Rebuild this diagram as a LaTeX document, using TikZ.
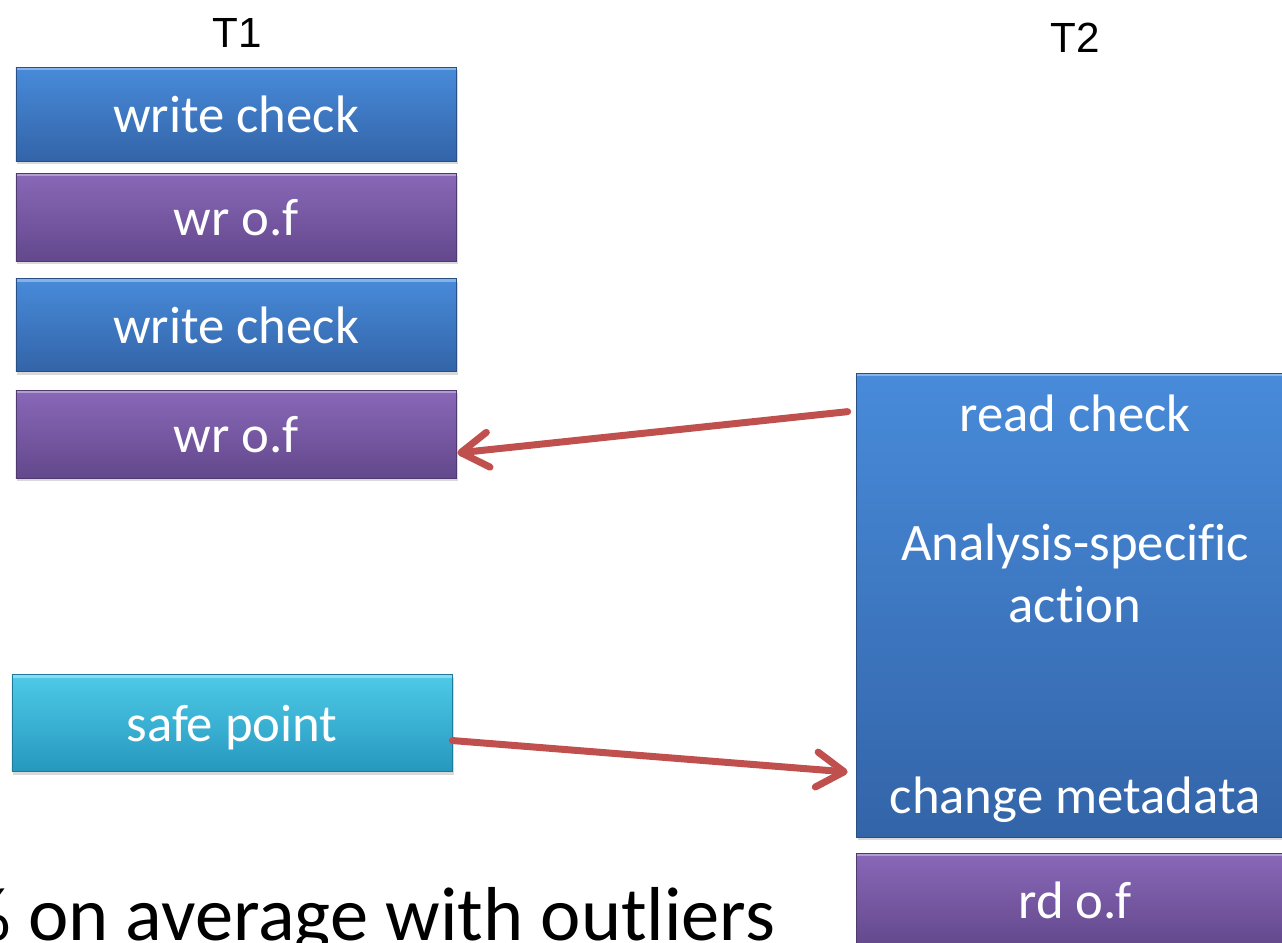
\documentclass[tikz,border=0pt]{standalone}
\usepackage{fontspec}
\setmainfont{Carlito}[Ligatures=NoCommon]
\newfontfamily\arialfont{Liberation Sans}
\usetikzlibrary{arrows.meta,shadows,calc}

\definecolor{chktop}{RGB}{72,139,218}
\definecolor{chkbot}{RGB}{51,100,168}
\definecolor{acctop}{RGB}{137,104,184}
\definecolor{accbot}{RGB}{99,72,140}
\definecolor{sptop}{RGB}{78,202,232}
\definecolor{spbot}{RGB}{38,152,190}
\definecolor{linkred}{RGB}{192,80,77}

\begin{document}
\begin{tikzpicture}
	[
	x=0.2mm, y=-0.2mm,
	box/.style={rectangle, inner sep=0pt, minimum width=88mm, text=white,
		font=\fontsize{30}{36}\selectfont, text height=7.2mm, text depth=0pt,
		drop shadow={opacity=0.3, shadow xshift=0.3mm, shadow yshift=-0.6mm},
		path picture={
			\draw[white, opacity=0.35, line width=1.2mm]
				(path picture bounding box.north west) -- (path picture bounding box.north east);
		}},
	chk/.style={box, top color=chktop, bottom color=chkbot, draw=chkbot!80!black},
	acc/.style={box, top color=acctop, bottom color=accbot, draw=accbot!80!black},
	sp/.style={box, top color=sptop, bottom color=spbot, draw=spbot!80!black},
	lbl/.style={font=\arialfont\fontsize{24}{28}\selectfont, anchor=base, inner sep=0pt},
	txt/.style={text=white, font=\fontsize{30}{36}\selectfont, anchor=base, inner sep=0pt},
	link/.style={line width=1.4mm, draw=linkred, line cap=round,
		-{Straight Barb[length=5.5mm, width=7mm, round]}},
	]
		\useasboundingbox (0,0) rectangle (1282,942);
		\clip (0,0) rectangle (1282,942);

		% thread labels
		\node[lbl] (t1) at 		( 237,  47 ) {T1};
		\node[lbl] (t2) at 		(1075,  52 ) {T2};

		% T1
		\node[chk, minimum height=18.8mm] (wc1) at 		( 236, 114 ) {write check};
		\node[acc, minimum height=17.6mm] (wr1) at 		( 236, 217 ) {wr o.f};
		\node[chk, minimum height=18.6mm] (wc2) at 		( 236, 325 ) {write check};
		\node[acc, minimum height=17.6mm] (wr2) at 		( 236, 434 ) {wr o.f};
		\node[sp,  minimum height=19.4mm] (safe) at 	( 232, 723 ) {safe point};

		% T2
		\node[chk, minimum width=87.6mm, minimum height=92.8mm] (big) at 	(1075, 605 ) {};
		\node[txt] (rcheck) at 	(1075, 431 ) {read check};
		\node[txt] (anls) at 	(1075, 560 ) {Analysis-specific};
		\node[txt] (actn) at 	(1075, 622 ) {action};
		\node[txt] (meta) at 	(1075, 813 ) {change metadata};
		\node[acc, minimum width=87.6mm, minimum height=18.8mm] (rd) at 	(1075, 900 ) {rd o.f};

		% caption, cut by the frame
		\node[anchor=base west, inner sep=0pt, font=\fontsize{43.5}{50}\selectfont] (cap) at (-44, 940) {\% on average with outliers};

		\coordinate (rcout) at ($(big.north west)+(-8,39)$);
		\coordinate (wrin) at ($(wr2.east)+(1,19)$);
		\coordinate (mdin) at ($(big.west)+(-8,167)$);

		\foreach \from/\to in {rcout/wrin,safe/mdin} \draw[link] (\from) -- (\to);

	\end{tikzpicture}
\end{document}
